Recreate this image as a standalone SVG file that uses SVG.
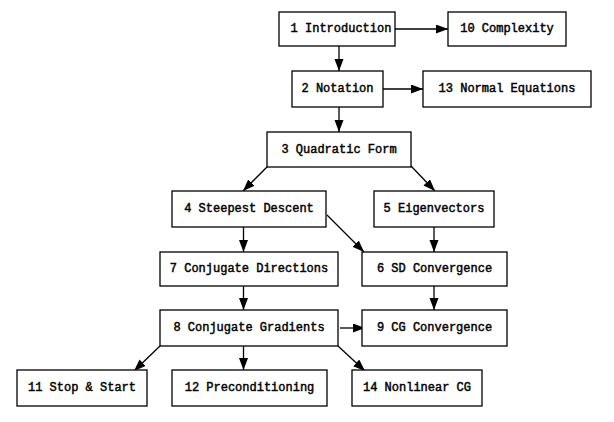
<svg xmlns="http://www.w3.org/2000/svg" width="614" height="422" viewBox="0 0 614 422">
<style>
.box{fill:#fff;stroke:#000;stroke-width:1.3}
.lbl{font-family:"Liberation Mono","Courier New",monospace;font-size:12px;font-weight:normal;fill:#000;stroke:#000;stroke-width:0.45;text-anchor:middle;dominant-baseline:central}
.edge{stroke:#000;stroke-width:1.3;fill:none;marker-end:url(#ah)}
</style>
<defs>
<marker id="ah" markerUnits="userSpaceOnUse" markerWidth="12" markerHeight="10" refX="12" refY="4.5" orient="auto">
<path d="M0,0 L12,4.5 L0,9 Z" fill="#000"/>
</marker>
</defs>
<rect width="614" height="422" fill="#fff"/>
<g id="edges">
<line class="edge" x1="395" y1="29" x2="448" y2="29"/>
<line class="edge" x1="339" y1="46" x2="339" y2="71"/>
<line class="edge" x1="383" y1="89" x2="423" y2="89"/>
<line class="edge" x1="339" y1="107" x2="339" y2="132"/>
<line class="edge" x1="268" y1="166" x2="243" y2="191"/>
<line class="edge" x1="411" y1="166" x2="435" y2="191"/>
<line class="edge" x1="243.5" y1="227" x2="243.5" y2="252"/>
<line class="edge" x1="327" y1="215" x2="364" y2="252"/>
<line class="edge" x1="434" y1="227" x2="434" y2="252"/>
<line class="edge" x1="243.5" y1="286" x2="243.5" y2="310"/>
<line class="edge" x1="434" y1="286" x2="434" y2="310"/>
<line class="edge" x1="340" y1="328" x2="365" y2="328"/>
<line class="edge" x1="160" y1="346" x2="134" y2="371"/>
<line class="edge" x1="243.5" y1="346" x2="243.5" y2="370"/>
<line class="edge" x1="338" y1="346" x2="365" y2="371"/>
</g>
<g id="n1"><rect class="box" x="279" y="12" width="116" height="34"/><text class="lbl" x="341" y="29">1 Introduction</text></g>
<g id="n10"><rect class="box" x="448" y="12" width="118" height="34"/><text class="lbl" x="507" y="29">10 Complexity</text></g>
<g id="n2"><rect class="box" x="292" y="71" width="91" height="36"/><text class="lbl" x="337.5" y="89">2 Notation</text></g>
<g id="n13"><rect class="box" x="423" y="71" width="168" height="36"/><text class="lbl" x="507" y="89">13 Normal Equations</text></g>
<g id="n3"><rect class="box" x="267" y="132" width="144" height="35"/><text class="lbl" x="339" y="149.5">3 Quadratic Form</text></g>
<g id="n4"><rect class="box" x="172" y="191" width="154" height="36"/><text class="lbl" x="249" y="209">4 Steepest Descent</text></g>
<g id="n5"><rect class="box" x="374" y="191" width="120" height="36"/><text class="lbl" x="434" y="209">5 Eigenvectors</text></g>
<g id="n7"><rect class="box" x="160" y="252" width="178" height="34"/><text class="lbl" x="249" y="269">7 Conjugate Directions</text></g>
<g id="n6"><rect class="box" x="362" y="252" width="145" height="34"/><text class="lbl" x="434.5" y="269">6 SD Convergence</text></g>
<g id="n8"><rect class="box" x="160" y="310" width="178" height="36"/><text class="lbl" x="249" y="328">8 Conjugate Gradients</text></g>
<g id="n9"><rect class="box" x="362" y="310" width="145" height="36"/><text class="lbl" x="434.5" y="328">9 CG Convergence</text></g>
<g id="n11"><rect class="box" x="17" y="370" width="130" height="36"/><text class="lbl" x="82" y="388">11 Stop &amp; Start</text></g>
<g id="n12"><rect class="box" x="172" y="370" width="155" height="36"/><text class="lbl" x="249.5" y="388">12 Preconditioning</text></g>
<g id="n14"><rect class="box" x="352" y="370" width="130" height="36"/><text class="lbl" x="417" y="388">14 Nonlinear CG</text></g>
</svg>
